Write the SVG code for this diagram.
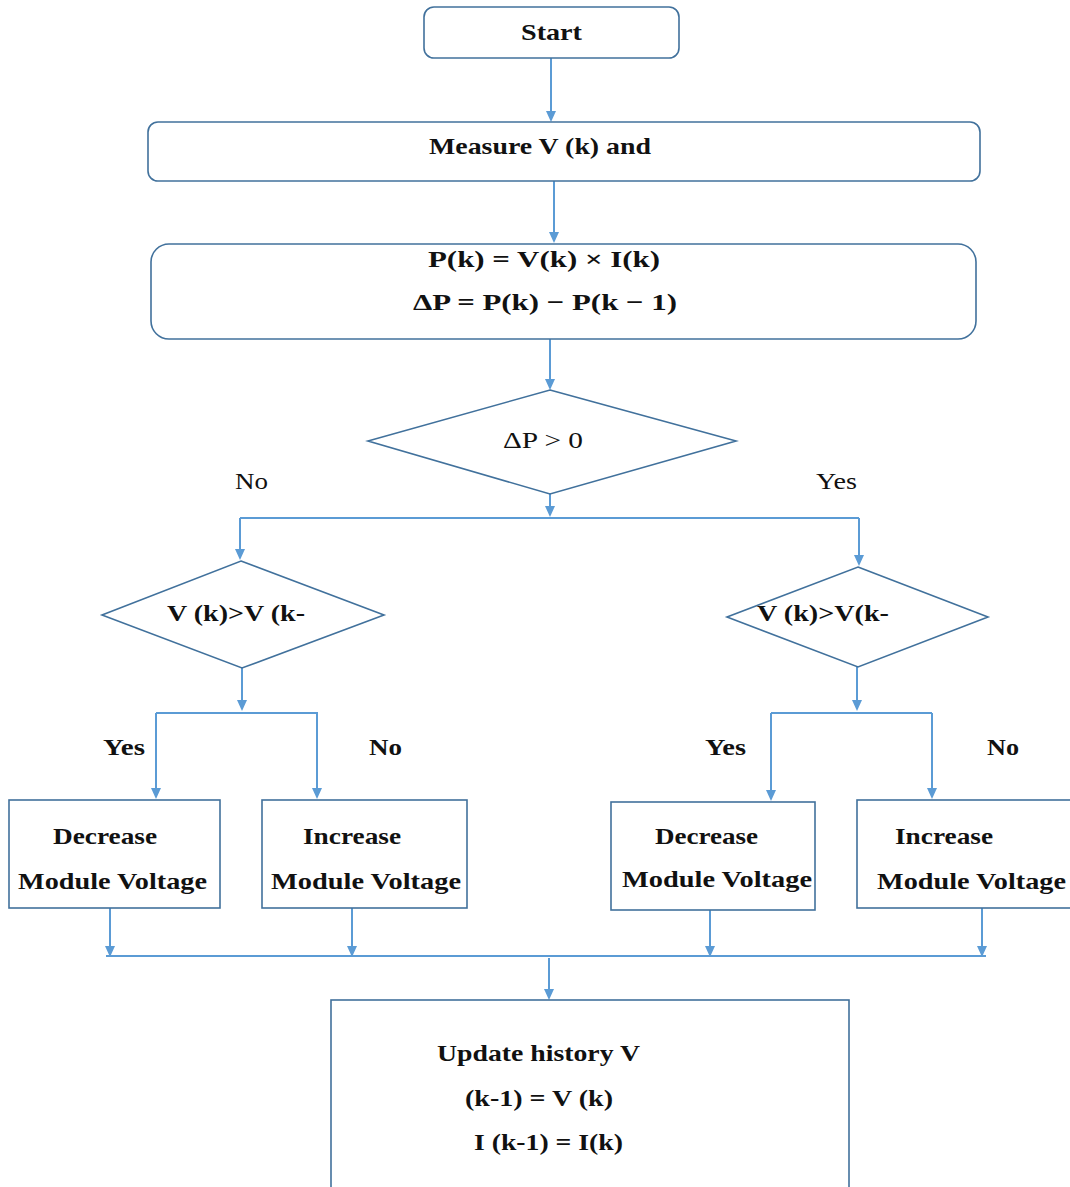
<svg xmlns="http://www.w3.org/2000/svg" width="1070" height="1187" viewBox="0 0 1070 1187">
<style>
.box{fill:#fff;stroke:#41719c;stroke-width:1.6}
.ln{fill:none;stroke:#5b9bd5;stroke-width:2}
.t{font-family:"Liberation Serif",serif;font-weight:bold;font-size:24px;fill:#111}
.r{font-family:"Liberation Serif",serif;font-size:23px;fill:#111}
</style>
<rect width="1070" height="1187" fill="#fff"/>
<g id="connectors">
<path class="ln" d="M551,58 V112"/>
<path class="ln" d="M554,181 V234"/>
<path class="ln" d="M550,339 V381"/>
<path class="ln" d="M550,494 V508"/>
<path class="ln" d="M240,518 H859"/>
<path class="ln" d="M240,518 V551"/>
<path class="ln" d="M859,518 V557"/>
<path class="ln" d="M242,668 V702"/>
<path class="ln" d="M156,713 H318"/>
<path class="ln" d="M156,713 V790"/>
<path class="ln" d="M317,713 V790"/>
<path class="ln" d="M857,667 V702"/>
<path class="ln" d="M771,713 H932"/>
<path class="ln" d="M771,713 V792"/>
<path class="ln" d="M932,713 V790"/>
<path class="ln" d="M110,908 V948"/>
<path class="ln" d="M352,908 V948"/>
<path class="ln" d="M710,910 V948"/>
<path class="ln" d="M982,908 V948"/>
<path class="ln" d="M106,956 H986"/>
<path class="ln" d="M549,958 V991"/>
<g fill="#5b9bd5">
<path d="M546,111 L556,111 L551,122 Z"/>
<path d="M549,232 L559,232 L554,243 Z"/>
<path d="M545,379 L555,379 L550,390 Z"/>
<path d="M545,506 L555,506 L550,517 Z"/>
<path d="M235,549 L245,549 L240,560 Z"/>
<path d="M854,555 L864,555 L859,566 Z"/>
<path d="M237,700 L247,700 L242,711 Z"/>
<path d="M852,700 L862,700 L857,711 Z"/>
<path d="M151,788 L161,788 L156,799 Z"/>
<path d="M312,788 L322,788 L317,799 Z"/>
<path d="M766,790 L776,790 L771,801 Z"/>
<path d="M927,788 L937,788 L932,799 Z"/>
<path d="M105,946 L115,946 L110,957 Z"/>
<path d="M347,946 L357,946 L352,957 Z"/>
<path d="M705,946 L715,946 L710,957 Z"/>
<path d="M977,946 L987,946 L982,957 Z"/>
<path d="M544,989 L554,989 L549,1000 Z"/>
</g>
</g>
<g id="start">
<rect class="box" x="424" y="7" width="255" height="51" rx="10"/>
<text class="t" x="521" y="40" textLength="61" lengthAdjust="spacingAndGlyphs">Start</text>
</g>
<g id="measure">
<rect class="box" x="148" y="122" width="832" height="59" rx="10"/>
<text class="t" x="429" y="154" textLength="222" lengthAdjust="spacingAndGlyphs">Measure V (k) and</text>
</g>
<g id="compute">
<rect class="box" x="151" y="244" width="825" height="95" rx="18"/>
<text class="t" x="428" y="267" textLength="232" lengthAdjust="spacingAndGlyphs">P(k) = V(k) × I(k)</text>
<text class="t" x="413" y="310" textLength="264" lengthAdjust="spacingAndGlyphs">ΔP = P(k) − P(k − 1)</text>
</g>
<g id="dp">
<polygon class="box" points="550,390 736,441 550,494 368,441"/>
<text class="r" x="503" y="448" textLength="80" lengthAdjust="spacingAndGlyphs">ΔP &gt; 0</text>
</g>
<g id="labels-top">
<text class="r" x="235" y="489" textLength="33" lengthAdjust="spacingAndGlyphs">No</text>
<text class="r" x="816" y="489" textLength="41" lengthAdjust="spacingAndGlyphs">Yes</text>
</g>
<g id="vleft">
<polygon class="box" points="241,561 384,615 242,668 102,615"/>
<text class="t" x="167" y="621" textLength="138" lengthAdjust="spacingAndGlyphs">V (k)&gt;V (k-</text>
</g>
<g id="vright">
<polygon class="box" points="858,567 988,617 858,667 727,617"/>
<text class="t" x="757" y="621" textLength="132" lengthAdjust="spacingAndGlyphs">V (k)&gt;V(k-</text>
</g>
<g id="labels-mid">
<text class="t" x="103" y="755" textLength="42" lengthAdjust="spacingAndGlyphs">Yes</text>
<text class="t" x="369" y="755" textLength="33" lengthAdjust="spacingAndGlyphs">No</text>
<text class="t" x="705" y="755" textLength="41" lengthAdjust="spacingAndGlyphs">Yes</text>
<text class="t" x="987" y="755" textLength="32" lengthAdjust="spacingAndGlyphs">No</text>
</g>
<g id="dec-left">
<rect class="box" x="9" y="800" width="211" height="108"/>
<text class="t" x="53" y="844" textLength="104" lengthAdjust="spacingAndGlyphs">Decrease</text>
<text class="t" x="18" y="889" textLength="189" lengthAdjust="spacingAndGlyphs">Module Voltage</text>
</g>
<g id="inc-left">
<rect class="box" x="262" y="800" width="205" height="108"/>
<text class="t" x="303" y="844" textLength="98" lengthAdjust="spacingAndGlyphs">Increase</text>
<text class="t" x="271" y="889" textLength="190" lengthAdjust="spacingAndGlyphs">Module Voltage</text>
</g>
<g id="dec-right">
<rect class="box" x="611" y="802" width="204" height="108"/>
<text class="t" x="655" y="844" textLength="103" lengthAdjust="spacingAndGlyphs">Decrease</text>
<text class="t" x="622" y="887" textLength="190" lengthAdjust="spacingAndGlyphs">Module Voltage</text>
</g>
<g id="inc-right">
<rect class="box" x="857" y="800" width="220" height="108"/>
<text class="t" x="895" y="844" textLength="98" lengthAdjust="spacingAndGlyphs">Increase</text>
<text class="t" x="877" y="889" textLength="189" lengthAdjust="spacingAndGlyphs">Module Voltage</text>
</g>
<g id="update">
<rect class="box" x="331" y="1000" width="518" height="200"/>
<text class="t" x="437" y="1061" textLength="203" lengthAdjust="spacingAndGlyphs">Update history V</text>
<text class="t" x="465" y="1106" textLength="148" lengthAdjust="spacingAndGlyphs">(k-1) = V (k)</text>
<text class="t" x="474" y="1150" textLength="149" lengthAdjust="spacingAndGlyphs">I (k-1) = I(k)</text>
</g>
</svg>
